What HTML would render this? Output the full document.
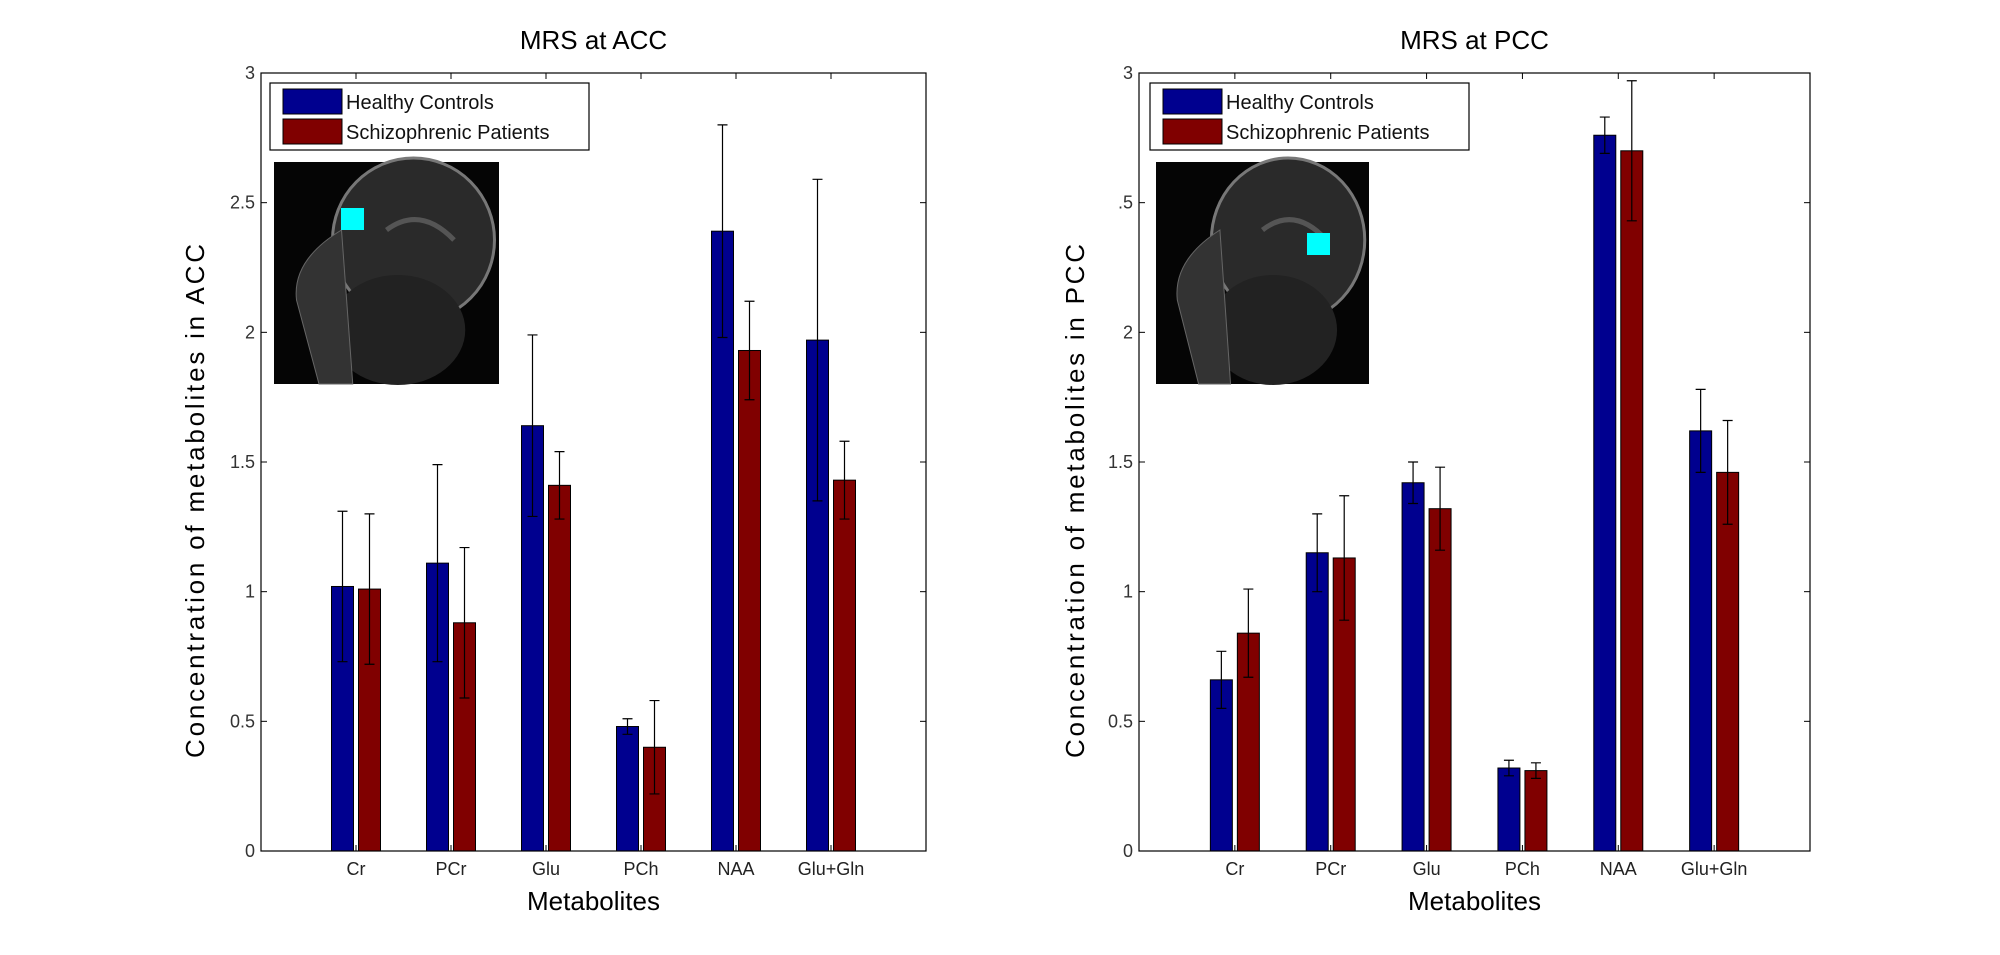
<!DOCTYPE html>
<html><head><meta charset="utf-8">
<style>
html,body{margin:0;padding:0;background:#fff;}
svg{display:block;font-family:"Liberation Sans",Arial,sans-serif;}
</style></head>
<body>
<svg id="fig" width="2000" height="955" viewBox="0 0 2000 955"></svg>
<script>
const categories = ["Cr","PCr","Glu","PCh","NAA","Glu+Gln"];
const accHealthy = [1.02,1.11,1.64,0.48,2.39,1.97];
const accHealthyErr = [0.29,0.38,0.35,0.03,0.41,0.62];
const accPatients = [1.01,0.88,1.41,0.40,1.93,1.43];
const accPatientsErr = [0.29,0.29,0.13,0.18,0.19,0.15];
const pccHealthy = [0.66,1.15,1.42,0.32,2.76,1.62];
const pccHealthyErr = [0.11,0.15,0.08,0.03,0.07,0.16];
const pccPatients = [0.84,1.13,1.32,0.31,2.70,1.46];
const pccPatientsErr = [0.17,0.24,0.16,0.03,0.27,0.20];
const yTicks = [0,0.5,1,1.5,2,2.5,3];
const accTickLabels = ["0","0.5","1","1.5","2","2.5","3"];
const pccTickLabels = ["0","0.5","1","1.5","2",".5","3"];

const NS="http://www.w3.org/2000/svg";
const svg=document.getElementById('fig');
function mk(tag,attrs,parent){const e=document.createElementNS(NS,tag);for(const k in attrs)e.setAttribute(k,attrs[k]);(parent||svg).appendChild(e);return e;}

function panel(cfg){
  const g=mk('g',{});
  
  
  const L=cfg.x0,R=cfg.x1,T=73,B=851;
  const xs=i=>L+(i+1)*(R-L)/7;
  const ys=v=>B-v/3*(B-T);
  // ticks
  yTicks.forEach((t,i)=>{
    const y=ys(t);
    const tl=mk('line',{x1:L,x2:L+6,y1:y,y2:y,stroke:'#000','stroke-width':1},g);
    
    mk('line',{x1:R,x2:R-6,y1:y,y2:y,stroke:'#000','stroke-width':1},g);
    const lab=mk('text',{x:L-6,y:y+6,'text-anchor':'end','font-size':18,fill:'#333'},g);
    lab.textContent=cfg.tickLabels[i];
    
  });
  categories.forEach((c,i)=>{
    const x=xs(i);
    mk('line',{x1:x,x2:x,y1:B,y2:B-6,stroke:'#000'},g);
    mk('line',{x1:x,x2:x,y1:T,y2:T+6,stroke:'#000'},g);
    const lab=mk('text',{x:x,y:875,'text-anchor':'middle','font-size':18,fill:'#222'},g);
    lab.textContent=c;
    
  });
  // bars
  const bw=22,off=13.5;
  [[cfg.h,cfg.he,'#00008f',-off,'bar-healthy'],[cfg.p,cfg.pe,'#800000',off,'bar-patients']].forEach(s=>{
    s[0].forEach((v,i)=>{
      const cx=xs(i)+s[3];
      const r=mk('rect',{x:cx-bw/2,y:ys(v),width:bw,height:B-ys(v),fill:s[2],stroke:'#000','stroke-width':1},g);
      
      const e=s[1][i];
      const eb=mk('path',{d:`M${cx},${ys(v+e)}V${ys(v-e)}M${cx-5},${ys(v+e)}H${cx+5}M${cx-5},${ys(v-e)}H${cx+5}`,stroke:'#000','stroke-width':1.2,fill:'none'},g);
      
    });
  });
  const box=mk('rect',{x:L,y:T,width:R-L,height:B-T,fill:'none',stroke:'#000','stroke-width':1.2},g);
  
  // titles
  const ti=mk('text',{x:(L+R)/2,y:49,'text-anchor':'middle','font-size':26},g);
  ti.textContent=cfg.title;
  const xt=mk('text',{x:(L+R)/2,y:910,'text-anchor':'middle','font-size':26},g);
  xt.textContent='Metabolites';
  const yt=mk('text',{x:0,y:0,'text-anchor':'middle','font-size':26,textLength:514,lengthAdjust:'spacing',transform:`translate(${cfg.ytx},501) rotate(-90)`},g);
  yt.textContent=cfg.ytitle;
  // MRI inset
  const ix=cfg.img[0],iw=cfg.img[1];
  const im=mk('g',{},g);
  
  mk('rect',{x:ix,y:162,width:iw,height:222,fill:'#050505'},im);
  mk('ellipse',{cx:ix+iw*0.62,cy:240,rx:iw*0.36,ry:82,fill:'#2a2a2a',stroke:'#777','stroke-width':3},im);
  mk('ellipse',{cx:ix+iw*0.55,cy:330,rx:iw*0.3,ry:55,fill:'#222'},im);
  mk('path',{d:`M${ix+iw*0.3},230 Q${ix+iw*0.08},260 ${ix+iw*0.1},300 L${ix+iw*0.2},384 L${ix+iw*0.35},384 Z`,fill:'#333',stroke:'#666'},im);
  mk('path',{d:`M${ix+iw*0.5},230 Q${ix+iw*0.65},205 ${ix+iw*0.8},240`,fill:'none',stroke:'#555','stroke-width':5},im);
  const cy=mk('rect',{x:cfg.cyan[0],y:cfg.cyan[1],width:23,height:22,fill:'#00ffff'},im);
  
  // legend
  const lx=cfg.leg;
  const lg=mk('g',{},g);
  
  mk('rect',{x:lx,y:83,width:319,height:67,fill:'#fff',stroke:'#000','stroke-width':1.2},lg);
  [['Healthy Controls','#00008f',89],['Schizophrenic Patients','#800000',119]].forEach(it=>{
    const e=mk('g',{},lg);
    
    mk('rect',{x:lx+13,y:it[2],width:59,height:25,fill:it[1],stroke:'#000'},e);
    const t=mk('text',{x:lx+76,y:it[2]+20,'font-size':20,fill:'#111'},e);
    t.textContent=it[0];
  });
}
panel({name:'acc-panel',x0:261,x1:926,title:'MRS at ACC',ytitle:'Concentration of metabolites in ACC',ytx:204,
  h:accHealthy,he:accHealthyErr,p:accPatients,pe:accPatientsErr,tickLabels:accTickLabels,img:[274,225],cyan:[341,208],leg:270});
panel({name:'pcc-panel',x0:1139,x1:1810,title:'MRS at PCC',ytitle:'Concentration of metabolites in PCC',ytx:1084,
  h:pccHealthy,he:pccHealthyErr,p:pccPatients,pe:pccPatientsErr,tickLabels:pccTickLabels,img:[1156,213],cyan:[1307,233],leg:1150});
</script>
</body></html>
